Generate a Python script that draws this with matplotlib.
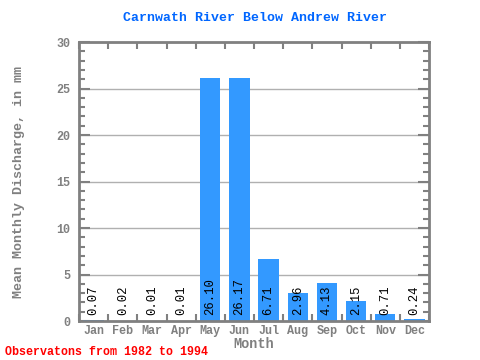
import numpy as np
import matplotlib.pyplot as plt
from matplotlib.ticker import MultipleLocator

months = ['Jan', 'Feb', 'Mar', 'Apr', 'May', 'Jun', 'Jul', 'Aug', 'Sep', 'Oct', 'Nov', 'Dec']
discharge = [0.07, 0.02, 0.01, 0.01, 26.10, 26.17, 6.71, 2.96, 4.13, 2.15, 0.71, 0.24]
labels = ['0.07', '0.02', '0.01', '0.01', '26.10', '26.17', '6.71', '2.96', '4.13', '2.15', '0.71', '0.24']

mono = 'Liberation Mono'
grey = '#808080'

fig = plt.figure(figsize=(4.8, 3.6), dpi=100)
ax = fig.add_axes([0.1646, 0.1083, 0.7292, 0.775])

x = np.arange(len(months))
ax.bar(x, discharge, width=0.7, color='#3399ff', zorder=2)
for xi, lab in zip(x, labels):
    ax.text(xi, 0.6, lab, rotation=90, ha='center', va='bottom',
            fontsize=8.8, family=mono, color='black', zorder=3)

ax.set_xlim(-0.5, 11.5)
ax.set_ylim(0, 30)
ax.set_xticks(x)
ax.set_xticklabels(months)
ax.set_xticks(np.arange(-0.5, 12, 1), minor=True)
ax.tick_params(axis='x', which='major', length=0, pad=3)
ax.tick_params(axis='x', which='minor', direction='in', length=5, width=1.5,
               color=grey, top=True, bottom=True)
ax.yaxis.set_major_locator(MultipleLocator(5))
ax.yaxis.set_minor_locator(MultipleLocator(1))
ax.tick_params(axis='y', which='major', direction='in', length=8, width=1.5,
               color=grey, left=True, right=True, pad=6)
ax.tick_params(axis='y', which='minor', direction='in', length=4, width=1.5,
               color=grey, left=True, right=True)
for lab in ax.get_xticklabels() + ax.get_yticklabels():
    lab.set_family(mono)
    lab.set_fontweight('bold')
    lab.set_color(grey)
    lab.set_fontsize(8.5)

ax.grid(axis='y', which='major', color='#b0b0b0', lw=1, zorder=1)
for sp in ax.spines.values():
    sp.set_color(grey)
    sp.set_linewidth(2)

fig.text(0.531, 0.95, 'Carnwath River Below Andrew River', ha='center', va='center',
         family=mono, fontweight='bold', fontsize=9.5, color='#0066ff')
ax.set_xlabel('Month', family=mono, fontweight='bold', fontsize=9.8, color=grey, labelpad=0)
ax.set_ylabel('Mean Monthly Discharge, in mm', family=mono, fontweight='bold',
              fontsize=9.6, color=grey, labelpad=23)
fig.text(0.01, 0.022, 'Observatons from 1982 to 1994', ha='left', va='center',
         family=mono, fontweight='bold', fontsize=8.4, color='#ff0000')

fig.savefig('out.png', dpi=100)
